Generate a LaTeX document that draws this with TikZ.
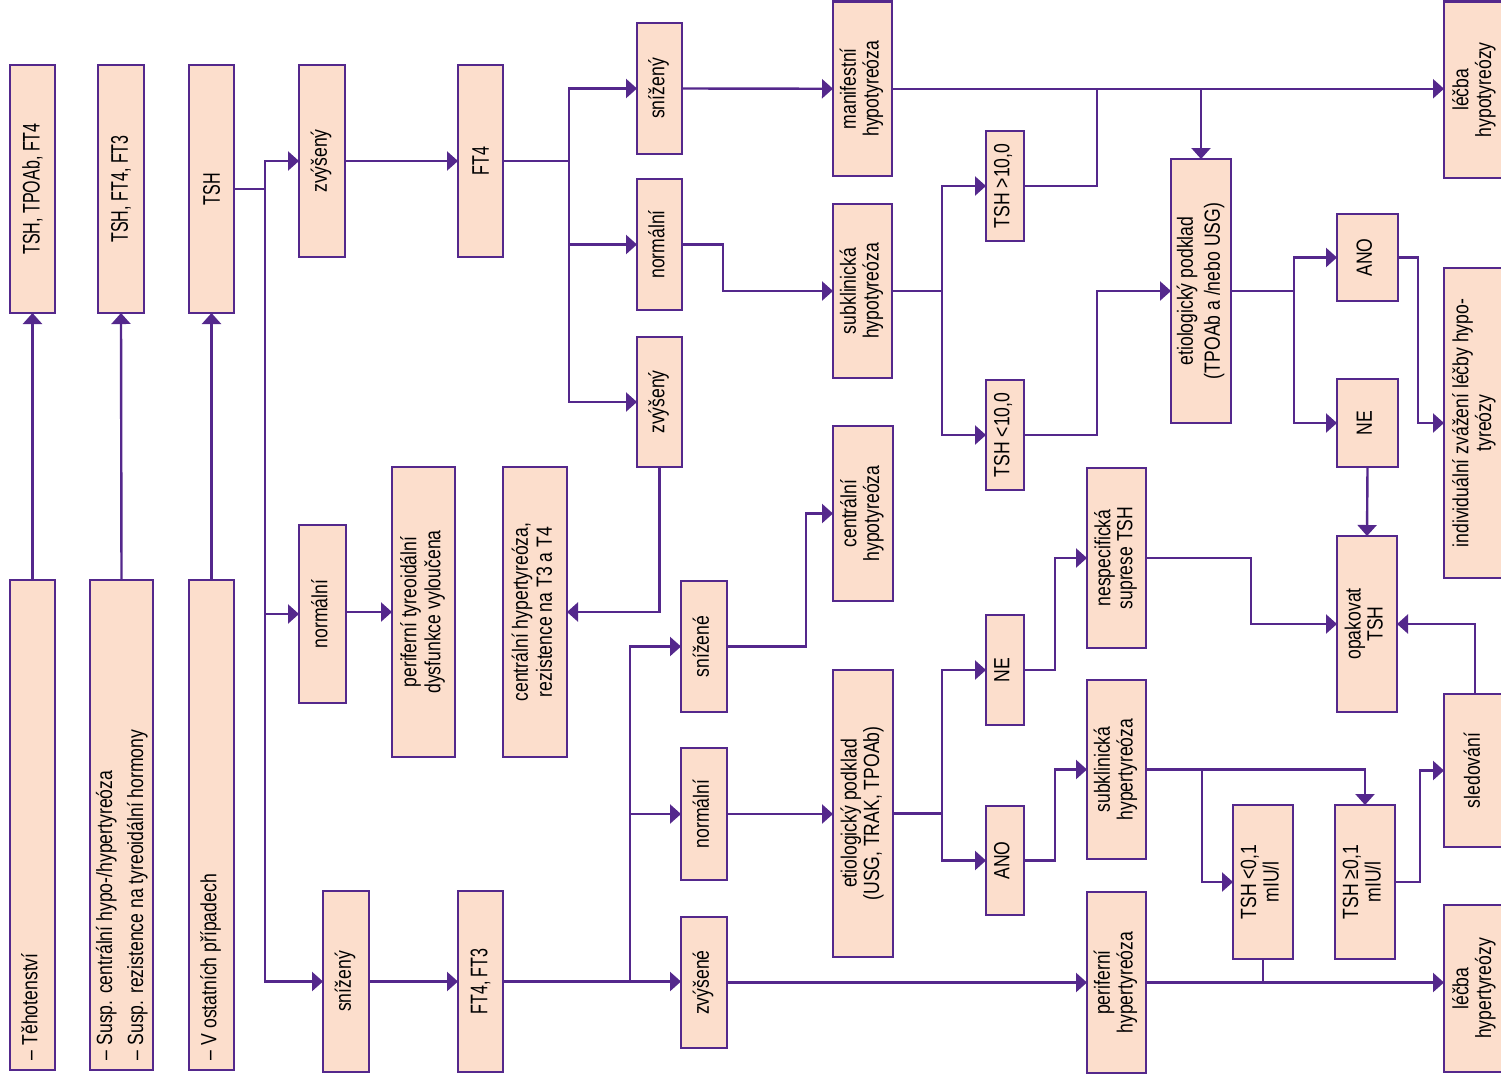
\documentclass[tikz,border=0pt]{standalone}
\usepackage{fontspec}
\setmainfont{Liberation Sans}
\newfontfamily\fA[FakeStretch=0.67]{Liberation Sans}
\newfontfamily\fB[FakeStretch=0.80]{Liberation Sans}
\usetikzlibrary{arrows.meta}
\definecolor{pur}{HTML}{54288C}
\definecolor{pch}{HTML}{FCDECC}
\newcommand\txtA[1]{\rotatebox{90}{\fA\fontsize{24}{24}\selectfont #1}}
\newcommand\txtB[2][22]{\rotatebox{90}{\fB\fontsize{22}{#1}\selectfont\begin{tabular}{@{}c@{}}#2\end{tabular}}}
\newcommand\txtL[3][22]{\rotatebox{90}{\fB\fontsize{22}{#1}\selectfont\makebox[#2pt][l]{\begin{tabular}{@{}l@{}}#3\end{tabular}}}}
\newcommand\bx[6]{\node[bx, minimum width={#4pt-#2pt}, minimum height={#5pt-#3pt}] (#1) at ({(#2+#4)/2},{(#3+#5)/2}) {#6};}
\tikzset{
  bx/.style={draw=pur, line width=2.6pt, fill=pch, inner sep=0pt, outer sep=0pt},
  ln/.style={draw=pur, line width=2.4pt},
  ar/.style={ln, -{Triangle[length=11pt,width=19pt]}}
}
\begin{document}
\begin{tikzpicture}[x=1pt,y=-1pt]
\useasboundingbox (0,0) rectangle (1501,1080);
% column 1
\bx{b1}{10}{65}{55}{313}{\txtA{TSH, TPOAb, FT4}}
\bx{b2}{98}{65}{144}{313}{\txtA{TSH, FT4, FT3}}
\bx{b3}{189}{65}{234}{313}{\txtA{TSH}}
\bx{c1}{10}{580}{55}{1070}{\txtL{470}{– Těhotenství}}
\bx{c2}{90}{580}{153}{1070}{\txtL[31]{470}{– Susp. centrální hypo-/hypertyreóza\\– Susp. rezistence na tyreoidální hormony}}
\bx{c3}{189}{580}{234}{1070}{\txtL{470}{– V ostatních případech}}
% column 2
\bx{zv1}{299}{65}{345}{257}{\txtB{zvýšený}}
\bx{ft4}{458}{65}{503}{257}{\txtA{FT4}}
\bx{no1}{299}{525}{346}{703}{\txtB{normální}}
\bx{ptd}{392}{467}{455}{757}{\txtB[24]{periferní tyreoidální\\dysfunkce vyloučena}}
\bx{chyp}{503}{467}{567}{757}{\txtB[24]{centrální hypertyreóza,\\rezistence na T3 a T4}}
\bx{sn1}{323}{891}{369}{1072}{\txtB{snížený}}
\bx{ft43}{458}{891}{503}{1072}{\txtA{FT4, FT3}}
% column 3
\bx{sn2}{637}{23}{682}{154}{\txtB{snížený}}
\bx{no2}{637}{179}{682}{310}{\txtB{normální}}
\bx{zv2}{637}{337}{682}{467}{\txtB{zvýšený}}
\bx{sne}{681}{581}{727}{712}{\txtB{snížené}}
\bx{no3}{681}{748}{727}{880}{\txtB{normální}}
\bx{zve}{681}{917}{727}{1048}{\txtB{zvýšené}}
% column 4
\bx{man}{833}{1.5}{892}{176}{\txtB{manifestní\\hypotyreóza}}
\bx{sub}{833}{204}{892}{378}{\txtB{subklinická\\hypotyreóza}}
\bx{chypo}{833}{426}{893}{601}{\txtB{centrální\\hypotyreóza}}
\bx{etB}{833}{670}{893}{957}{\txtB{etiologický podklad\\(USG, TRAK, TPOAb)}}
% column 5
\bx{ta}{986}{131}{1024}{241}{\txtB{TSH >10,0}}
\bx{tb}{986}{380}{1024}{490}{\txtB{TSH <10,0}}
\bx{neL}{986}{615}{1024}{725}{\txtB{NE}}
\bx{anoL}{986}{806}{1024}{915}{\txtB{ANO}}
% column 6
\bx{etA}{1171}{159}{1231}{423}{\txtB[27]{etiologický podklad\\(TPOAb a /nebo USG)}}
\bx{nesp}{1087}{468}{1146}{648}{\txtB{nespecifická\\suprese TSH}}
\bx{subh}{1087}{680}{1146}{859}{\txtB{subklinická\\hypertyreóza}}
\bx{ph}{1087}{892}{1146}{1073}{\txtB{periferní\\hypertyreóza}}
\bx{t01a}{1233}{805}{1293}{959}{\txtB{TSH <0,1\\mIU/l}}
\bx{t01b}{1335}{805}{1395}{959}{\txtB{TSH ≥0,1\\mIU/l}}
% column 7
\bx{anoR}{1337}{214}{1398}{301}{\txtB{ANO}}
\bx{neR}{1337}{379}{1398}{467}{\txtB{NE}}
\bx{opak}{1337}{536}{1397}{712}{\txtB{opakovat\\TSH}}
% right edge
\bx{lhypo}{1444}{1.5}{1506}{178}{\txtB{léčba\\hypotyreózy}}
\bx{ind}{1444}{268}{1506}{578}{\txtB{individuální zvážení léčby hypo-\\tyreózy}}
\bx{sled}{1444}{694}{1506}{847}{\txtB{sledování}}
\bx{lhyper}{1444}{905}{1506}{1072}{\txtB{léčba\\hypertyreózy}}
% vertical bus coordinates
\coordinate (v1) at (265,0);
\coordinate (v2) at (569,0);
\coordinate (v3) at (723,0);
\coordinate (v4) at (942,0);
\coordinate (v5) at (1097,0);
\coordinate (v6) at (1294,0);
\coordinate (v7) at (1418,0);
\coordinate (v8) at (630,0);
\coordinate (v9) at (806,0);
\coordinate (v10) at (1055,0);
\coordinate (v11) at (1251,0);
\coordinate (v12) at (1202,0);
\coordinate (v13) at (1420,0);
% connectors
\draw[ar] (c1.north) -- (b1.south);
\draw[ar] (c2.north) -- (b2.south);
\draw[ar] (c3.north) -- (b3.south);
\draw[ln] (b3.east) -- (v1 |- b3.east);
\draw[ar] (v1 |- b3.east) |- (zv1.west);
\draw[ar] (v1 |- b3.east) |- (sn1.west);
\draw[ar] (v1 |- no1.west) -- (no1.west);
\draw[ar] (zv1.east) -- (ft4.west);
\draw[ln] (ft4.east) -- (v2 |- ft4.east);
\draw[ar] (v2 |- ft4.east) |- (sn2.west);
\draw[ar] (v2 |- ft4.east) |- (zv2.west);
\draw[ar] (v2 |- no2.west) -- (no2.west);
\draw[ar] (sn2.east) -- (man.west);
\draw[ar] (no2.east) -- (v3 |- no2.east) |- (sub.west);
\draw[ln] (sub.east) -- (v4 |- sub.east);
\draw[ar] (v4 |- sub.east) |- (ta.west);
\draw[ar] (v4 |- sub.east) |- (tb.west);
\draw[ar] (man.east) -- (lhypo.west |- man.east);
\draw[ln] (ta.east) -| (v5 |- man.east);
\draw[ar] (etA.north |- man.east) -- (etA.north);
\draw[ar] (tb.east) -- (v5 |- tb.east) |- (etA.west);
\draw[ln] (etA.east) -- (v6 |- etA.east);
\draw[ar] (v6 |- etA.east) |- (anoR.west);
\draw[ar] (v6 |- etA.east) |- (neR.west);
\draw[ar] (anoR.east) -- (v7 |- anoR.east) |- (ind.west);
\draw[ar] (neR.south) -- (opak.north);
\draw[ar] (zv2.south) |- (chyp.east);
\draw[ar] (no1.east |- ptd.west) -- (ptd.west);
\draw[ar] (sn1.east) -- (ft43.west);
\draw[ar] (ft43.east) -- (zve.west |- ft43.east);
\draw[ar] (v8 |- ft43.east) |- (sne.west);
\draw[ar] (v8 |- no3.west) -- (no3.west);
\draw[ar] (sne.east) -- (v9 |- sne.east) |- (chypo.west);
\draw[ar] (no3.east) -- (etB.west |- no3.east);
\draw[ln] (etB.east) -- (v4 |- etB.east);
\draw[ar] (v4 |- etB.east) |- (neL.west);
\draw[ar] (v4 |- etB.east) |- (anoL.west);
\draw[ar] (neL.east) -- (v10 |- neL.east) |- (nesp.west);
\draw[ar] (anoL.east) -- (v10 |- anoL.east) |- (subh.west);
\draw[ar] (nesp.east) -- (v11 |- nesp.east) |- (opak.west);
\draw[ar] (subh.east) -| (t01b.north);
\draw[ar] (v12 |- subh.east) |- (t01a.west);
\draw[ar] (t01b.east) -- (v13 |- t01b.east) |- (sled.west);
\draw[ar] (sled.north) |- (opak.east);
\draw[ar] (zve.east) -- (ph.west |- zve.east);
\draw[ar] (ph.east) -- (lhyper.west |- ph.east);
\draw[ln] (t01a.south) -- (t01a.south |- ph.east);
\end{tikzpicture}
\end{document}
